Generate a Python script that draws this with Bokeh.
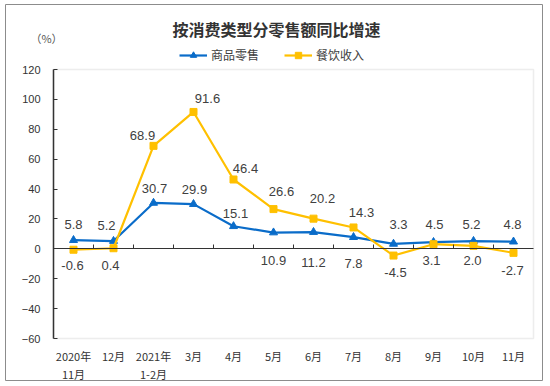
from bokeh.plotting import figure
from bokeh.models import (ColumnDataSource, Range1d, LinearAxis, FixedTicker,
                          Legend, LegendItem, Label, BoxAnnotation)
from bokeh.core.properties import value
from bokeh.embed import file_html
from bokeh.resources import INLINE

# ---- data ----
months = ["2020年\n11月", "12月", "2021年\n1-2月", "3月", "4月", "5月",
          "6月", "7月", "8月", "9月", "10月", "11月"]
goods = [5.8, 5.2, 30.7, 29.9, 15.1, 10.9, 11.2, 7.8, 3.3, 4.5, 5.2, 4.8]
catering = [-0.6, 0.4, 68.9, 91.6, 46.4, 26.6, 20.2, 14.3, -4.5, 3.1, 2.0, -2.7]
y_ticks = [-60, -40, -20, 0, 20, 40, 60, 80, 100, 120]
series_names = ["商品零售", "餐饮收入"]
title_text = "按消费类型分零售额同比增速"
unit_text = "（%）"

# ---- label placement (pixel offsets, styling only) ----
goods_dx = [0, -7, 1, 1, 2, 0, 0, 0, 5, 1, -2, -1]
goods_dy = [-16, -16, -14, -15, -13, 28, 30, 26, -19, -18, -17, -17]
cat_dx = [-1, -3, -11, 14, 12, 8, 9, 8, 2, -2, -1, -1]
cat_dy = [16, 17, -10, -13, -11, -18, -20, -15, 17, 16, 15, 18]

BLUE = "#0A6CC9"
YELLOW = "#FFC000"
CJK = "Noto Sans CJK SC"
NUM = "Liberation Sans"

# ---- layout (pixels) ----
W, H = 550, 386
BOX_L, BOX_T, BOX_R, BOX_B = 5, 4, 542, 380      # outer border = frame
PA_L, PA_T, PA_R, PA_B = 53, 69, 533, 338        # inner plotting area

n = len(months)
y_lo, y_hi = min(y_ticks), max(y_ticks)
ppx = (PA_R - PA_L) / n
ppy = (PA_B - PA_T) / (y_hi - y_lo)
x_start = -(PA_L - BOX_L) / ppx
x_end = n + (BOX_R - PA_R) / ppx
y_end = y_hi + (PA_T - BOX_T) / ppy
y_start = y_lo - (BOX_B - PA_B) / ppy

p = figure(x_range=Range1d(x_start, x_end), y_range=Range1d(y_start, y_end),
           width=W, height=H, output_backend="svg", toolbar_location=None,
           min_border_left=BOX_L, min_border_right=W - BOX_R,
           min_border_top=BOX_T, min_border_bottom=H - BOX_B)
p.outline_line_color = "#8c8c8c"
p.outline_line_width = 1
p.xgrid.grid_line_color = None
p.ygrid.grid_line_color = None

# inner plot area border
p.add_layout(BoxAnnotation(left=0, right=n, bottom=y_lo, top=y_hi, fill_alpha=0,
                           line_color="#c4c4c4", line_width=1.5, level="underlay"))

xc = [i + 0.5 for i in range(n)]

# category labels axis along the bottom of the plotting area
xa = p.xaxis[0]
xa.fixed_location = y_lo
xa.ticker = FixedTicker(ticks=xc)
xa.major_label_overrides = {x: m for x, m in zip(xc, months)}
xa.axis_line_color = None
xa.major_tick_line_color = None
xa.minor_tick_line_color = None
xa.major_label_standoff = 3
xa.major_label_text_font = CJK
xa.major_label_text_font_size = "11px"
xa.major_label_text_color = "#333333"
xa.major_label_text_line_height = 1.16

ya = p.yaxis[0]
ya.fixed_location = 0
ya.bounds = (y_lo, y_hi)
ya.ticker = FixedTicker(ticks=y_ticks)
ya.major_tick_in = 4
ya.major_tick_out = 0
ya.minor_tick_line_color = None
ya.axis_line_color = "#333333"
ya.axis_line_width = 1.5
ya.major_tick_line_color = "#333333"
ya.major_label_standoff = 13
ya.major_label_text_font = NUM
ya.major_label_text_font_size = "11px"
ya.major_label_text_color = "#333333"

# zero line with ticks at category boundaries
bounds_ticks = list(range(1, n))
zero_axis = LinearAxis(fixed_location=0, bounds=(0, n), ticker=FixedTicker(ticks=bounds_ticks),
                       major_tick_in=4, major_tick_out=0, minor_tick_line_color=None,
                       axis_line_color="#333333", major_tick_line_color="#333333",
                       major_label_overrides={t: "" for t in bounds_ticks},
                       major_label_standoff=0)
p.add_layout(zero_axis, "below")

src = ColumnDataSource(dict(x=xc, goods=goods, catering=catering,
                            gl=[f"{v:.1f}" for v in goods], cl=[f"{v:.1f}" for v in catering],
                            gdx=goods_dx, gdy=goods_dy, cdx=cat_dx, cdy=cat_dy))

r1 = p.line("x", "goods", source=src, line_color=BLUE, line_width=2.2)
s1 = p.scatter("x", "goods", source=src, marker="triangle", size=8, color=BLUE)
r2 = p.line("x", "catering", source=src, line_color=YELLOW, line_width=2.2)
s2 = p.scatter("x", "catering", source=src, marker="square", size=7, color=YELLOW)

p.text("x", "goods", text="gl", source=src, x_offset="gdx", y_offset="gdy",
       text_align="center", text_baseline="middle", text_font=value(NUM),
       text_font_size="13px", text_color="#404040")
p.text("x", "catering", text="cl", source=src, x_offset="cdx", y_offset="cdy",
       text_align="center", text_baseline="middle", text_font=value(NUM),
       text_font_size="13px", text_color="#404040")

legend = Legend(items=[LegendItem(label=series_names[0], renderers=[r1, s1]),
                       LegendItem(label=series_names[1], renderers=[r2, s2])],
                location=(179 - BOX_L, BOX_B - 63), orientation="horizontal",
                border_line_color=None, background_fill_alpha=0,
                padding=0, margin=0, spacing=25, glyph_width=28, glyph_height=16,
                label_height=16, label_standoff=4, label_text_font=CJK,
                label_text_font_size="12px", label_text_color="#404040")
p.add_layout(legend)

p.add_layout(Label(x=276 - BOX_L, y=BOX_B - 28, x_units="screen", y_units="screen",
                   text=title_text, text_align="center", text_baseline="middle",
                   text_font=CJK, text_font_size="16px", text_font_style="bold",
                   text_color="#333333"))
p.add_layout(Label(x=46 - BOX_L, y=BOX_B - 37, x_units="screen", y_units="screen",
                   text=unit_text, text_align="center", text_baseline="middle",
                   text_font=CJK, text_font_size="11px", text_color="#555555"))

open("out.html", "w").write(file_html(p, INLINE))
